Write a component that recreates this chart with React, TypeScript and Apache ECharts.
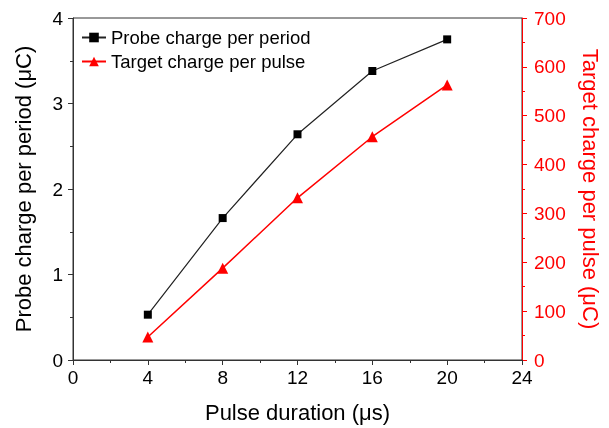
import React, { useEffect, useRef } from "react";
import * as echarts from "echarts";

const durations = [4, 8, 12, 16, 20];
const probeCharge = [0.53, 1.66, 2.64, 3.38, 3.75];
const targetCharge = [47, 188, 332, 457, 563];

const FONT = "Liberation Sans, Arial, sans-serif";

export default function App() {
  const ref = useRef<HTMLDivElement>(null);
  useEffect(() => {
    if (!ref.current) return;
    const chart = echarts.init(ref.current, null, { renderer: "svg" });
    const axisText = { color: "#000", fontSize: 19, fontFamily: FONT };
    chart.setOption({
      animation: false,
      textStyle: { fontFamily: FONT },
      grid: {
        left: 73,
        right: 77,
        top: 18,
        bottom: 66,
        show: true,
        borderColor: "#333",
        borderWidth: 1,
      },
      legend: {
        orient: "vertical",
        left: 76,
        top: 23,
        itemWidth: 24,
        itemHeight: 12,
        itemGap: 5,
        textStyle: { fontSize: 18.5, color: "#000", fontFamily: FONT },
        data: ["Probe charge per period", "Target charge per pulse"],
      },
      xAxis: {
        type: "value",
        min: 0,
        max: 24,
        interval: 4,
        name: "Pulse duration (\u03bcs)",
        nameLocation: "middle",
        nameGap: 41,
        nameTextStyle: { fontSize: 22, color: "#000", fontFamily: FONT },
        axisLine: { lineStyle: { color: "#333", width: 1 } },
        axisTick: { inside: false, length: 5, lineStyle: { color: "#333" } },
        minorTick: { show: true, splitNumber: 2, length: 3, lineStyle: { color: "#333" } },
        axisLabel: { ...axisText, margin: 8 },
        splitLine: { show: false },
      },
      yAxis: [
        {
          type: "value",
          min: 0,
          max: 4,
          interval: 1,
          position: "left",
          name: "Probe charge per period (\u03bcC)",
          nameLocation: "middle",
          nameGap: 39,
          nameRotate: 90,
          nameTextStyle: { fontSize: 22, color: "#000", fontFamily: FONT },
          axisLine: { show: true, lineStyle: { color: "#333", width: 1 } },
          axisTick: { show: true, length: 5, lineStyle: { color: "#333" } },
          minorTick: { show: true, splitNumber: 2, length: 3, lineStyle: { color: "#333" } },
          axisLabel: { ...axisText, margin: 10 },
          splitLine: { show: false },
        },
        {
          type: "value",
          min: 0,
          max: 700,
          interval: 100,
          position: "right",
          name: "Target charge per pulse (\u03bcC)",
          nameLocation: "middle",
          nameGap: 57,
          nameRotate: -90,
          nameTextStyle: { fontSize: 22, color: "#ff0000", fontFamily: FONT },
          axisLine: { show: true, lineStyle: { color: "#ff0000", width: 1 } },
          axisTick: { show: true, length: 5, lineStyle: { color: "#ff0000" } },
          minorTick: { show: true, splitNumber: 2, length: 3, lineStyle: { color: "#ff0000" } },
          axisLabel: { color: "#ff0000", fontSize: 19, fontFamily: FONT, margin: 12 },
          splitLine: { show: false },
        },
      ],
      series: [
        {
          name: "Probe charge per period",
          type: "line",
          yAxisIndex: 0,
          data: durations.map((d, i) => [d, probeCharge[i]]),
          symbol: "rect",
          symbolSize: 8,
          itemStyle: { color: "#000" },
          lineStyle: { color: "#222", width: 1.2 },
        },
        {
          name: "Target charge per pulse",
          type: "line",
          yAxisIndex: 1,
          data: durations.map((d, i) => [d, targetCharge[i]]),
          symbol: "triangle",
          symbolSize: 11,
          itemStyle: { color: "#ff0000" },
          lineStyle: { color: "#ff0000", width: 1.5 },
        },
      ],
    });
    return () => chart.dispose();
  }, []);
  return (
    <div
      ref={ref}
      style={{ position: "fixed", left: 0, top: 0, width: 609, height: 428 }}
    />
  );
}
